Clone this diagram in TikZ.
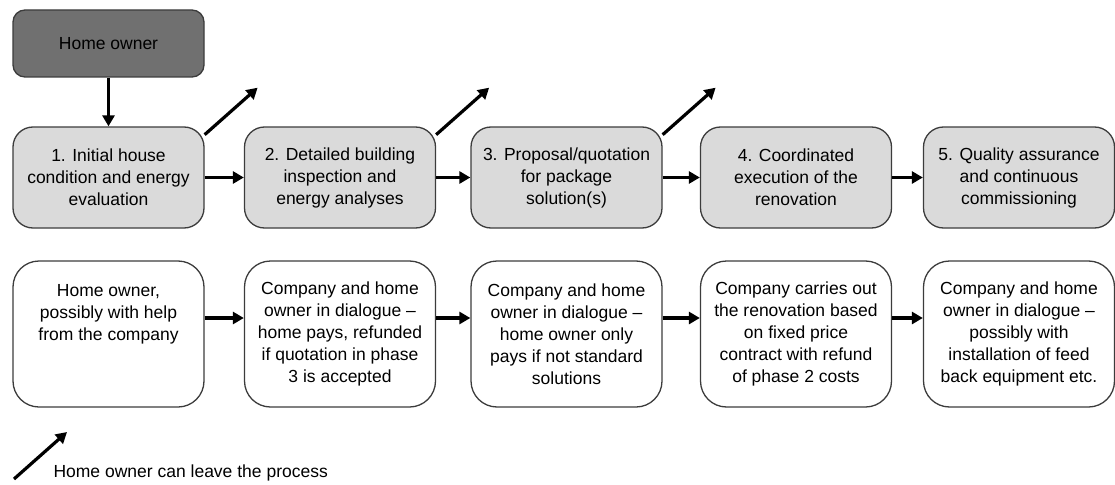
\documentclass[tikz,border=0pt]{standalone}
\usepackage{fontspec}
\setmainfont{Liberation Sans}
\usetikzlibrary{arrows.meta}

\definecolor{ownergray}{RGB}{112,112,112}
\definecolor{phasegray}{RGB}{218,218,218}
\definecolor{edgegray}{RGB}{60,60,60}

\begin{document}
\begin{tikzpicture}[
    x=1pt,
    y=-1pt,
    every node/.style={align=center, text=black, font=\fontsize{17.5}{22}\selectfont},
    box/.style={draw=edgegray, line width=1.3pt, minimum width=191pt, inner sep=2pt},
    phase/.style={box, fill=phasegray, rounded corners=20pt, minimum height=101pt},
    who/.style={box, fill=white, rounded corners=26pt, minimum height=146pt},
    arr/.style={-{Triangle[length=11pt,width=12pt]}, line width=3.2pt}]

    \useasboundingbox (0,0) rectangle (1115,484);

    % Home owner
    \node[box, fill=ownergray, rounded corners=12pt, minimum height=67pt]
         (ho) at (108.5,43.5) {Home owner};

    % Phases
    \node[phase] (p1) at (108.5,177.5) {1. Initial house\\condition and energy\\evaluation};
    \node[phase] (p2) at (340,177.5)   {2. Detailed building\\inspection and\\energy analyses};
    \node[phase] (p3) at (566.5,177.5) {3. Proposal/quotation\\for package\\solution(s)};
    \node[phase] (p4) at (796,177.5)   {4. Coordinated\\execution of the\\renovation};
    \node[phase] (p5) at (1019,177.5)  {5. Quality assurance\\and continuous\\commissioning};

    % Who does what
    \node[who] (w1) at (108.5,334) {Home owner,\\possibly with help\\from the company\\~\\~};
    \node[who] (w2) at (340,334)   {Company and home\\owner in dialogue –\\home pays, refunded\\if quotation in phase\\3 is accepted};
    \node[who] (w3) at (566.5,334) {Company and home\\owner in dialogue –\\home owner only\\pays if not standard\\solutions};
    \node[who] (w4) at (796,334)   {Company carries out\\the renovation based\\on fixed price\\contract with refund\\of phase 2 costs};
    \node[who] (w5) at (1019,334)  {Company and home\\owner in dialogue –\\possibly with\\installation of feed\\back equipment etc.};

    \draw[arr] (ho) -- (p1);

    % Flow between phases
    \foreach \n [count=\m from 2] in {1,...,4} {
      \draw[arr] (p\n) -- (p\m);
      \draw[arr] ([yshift=16pt]w\n.east) -- ([yshift=16pt]w\m.west);
    }

    % Leaving the process
    \foreach \n in {1,2,3} {
      \draw[arr] (p\n.24) -- ++(53,-47);
    }

    % Legend
    \coordinate (leg) at (14,479);
    \draw[arr] (leg) -- ++(53,-47);
    \node[anchor=west] (legtext) at (50,473) {Home owner can leave the process};
\end{tikzpicture}
\end{document}
